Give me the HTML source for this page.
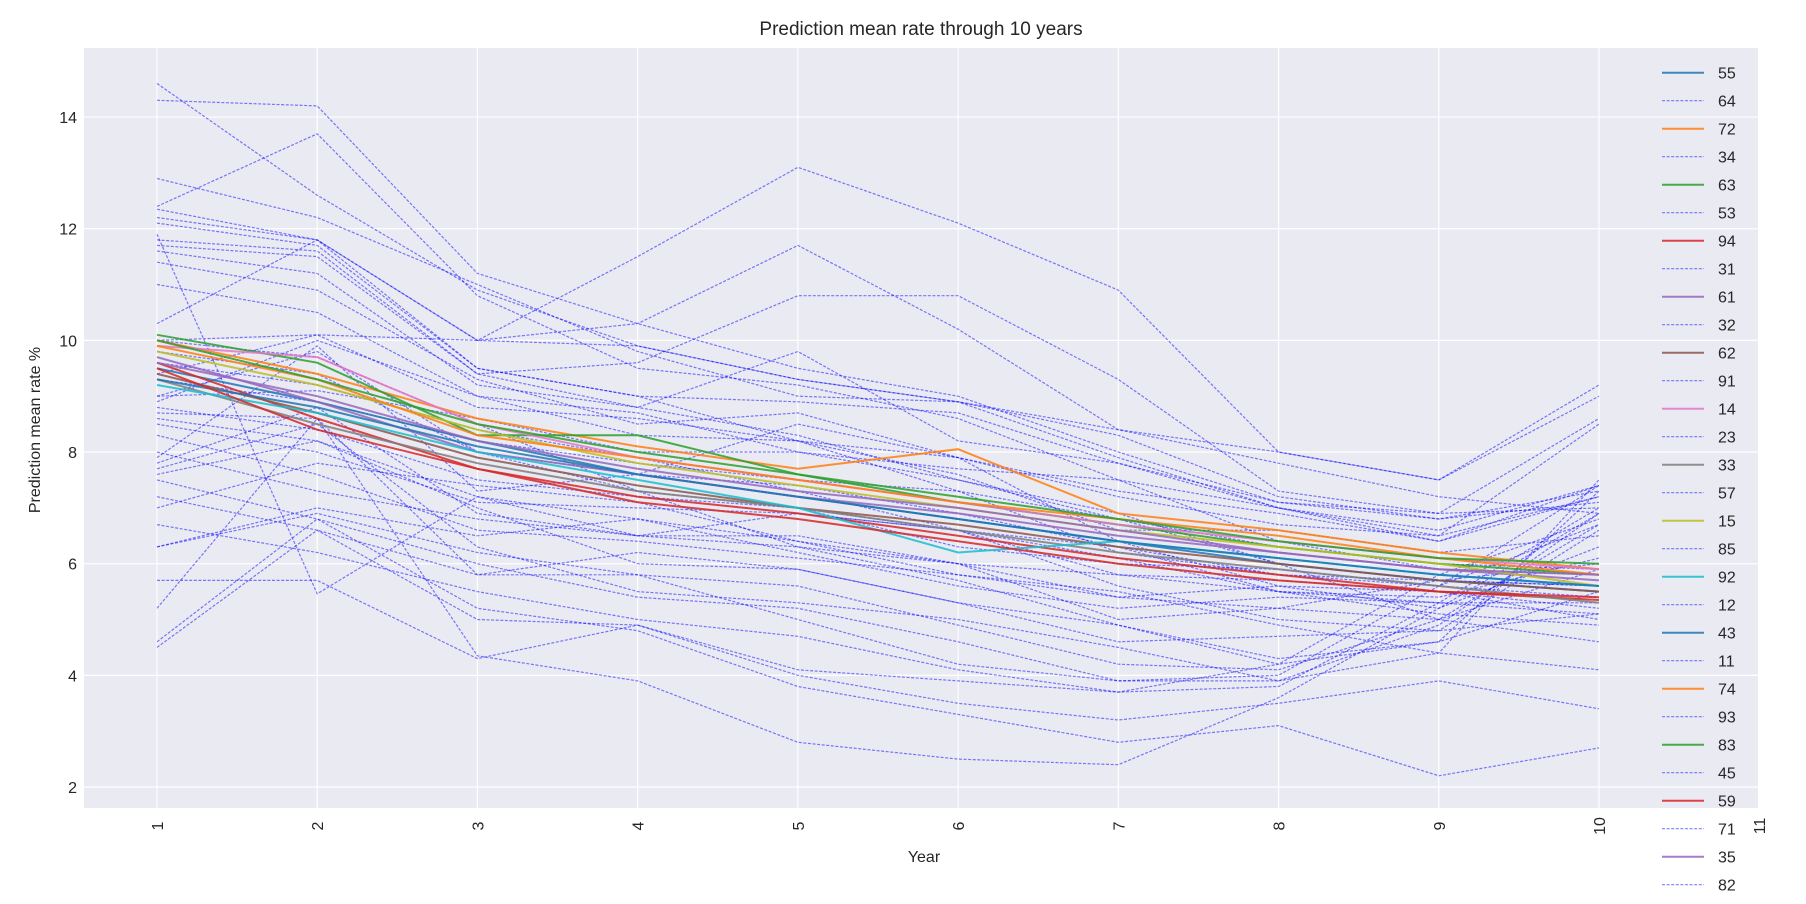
<!DOCTYPE html>
<html><head><meta charset="utf-8"><style>
html,body{margin:0;padding:0;background:#fff;}
svg{display:block;font-family:"Liberation Sans",sans-serif;}
</style></head><body>
<svg id="chart" width="1806" height="904" viewBox="0 0 1806 904" xmlns="http://www.w3.org/2000/svg">
<rect x="84" y="48" width="1674" height="760" fill="#eaeaf2"/>
<g id="grid"></g><g id="lines"></g><g id="axes"></g><g id="legend"></g>
<text x="921" y="35" text-anchor="middle" font-size="19" fill="#262626">Prediction mean rate through 10 years</text>
<text transform="translate(40,430) rotate(-90)" text-anchor="middle" font-size="16" fill="#262626">Prediction mean rate %</text>
<text x="924" y="862" text-anchor="middle" font-size="16" fill="#262626">Year</text>
</svg>
<script>
const years = [1,2,3,4,5,6,7,8,9,10];
const xTicks = [1,2,3,4,5,6,7,8,9,10,11];
const yTicks = [2,4,6,8,10,12,14];
const blueSeries = [
[14.6,12.6,10.9,9.9,9.3,8.9,8.3,7.2,6.8,7.3],
[14.3,14.2,11.2,10.3,9.5,9.0,8.0,7.1,6.9,7.0],
[12.9,12.2,11.0,9.8,9.0,8.9,7.9,7.0,6.6,7.4],
[12.4,13.7,10.8,9.5,9.2,8.6,7.5,7.0,6.4,7.2],
[12.35,11.8,10.0,11.5,13.1,12.1,10.9,8.0,7.5,9.2],
[12.2,11.8,10.0,10.3,11.7,10.2,8.4,8.0,7.5,9.0],
[11.9,5.46,7.2,6.5,6.3,5.7,4.9,4.3,4.6,5.5],
[11.7,11.5,9.4,9.6,10.8,10.8,9.3,7.3,6.9,8.6],
[11.6,11.2,9.2,8.8,9.8,8.2,7.8,7.0,6.5,8.5],
[11.4,10.9,9.3,8.5,8.7,7.9,7.3,6.9,6.4,7.4],
[11.0,10.5,9.0,8.3,8.2,7.9,7.2,6.7,6.5,7.2],
[10.3,11.8,9.5,9.0,8.9,8.7,7.8,7.1,6.8,7.1],
[10.0,10.1,10.0,9.9,9.3,8.9,8.4,7.8,7.2,6.9],
[9.4,10.1,8.8,8.6,8.2,7.6,6.6,6.6,6.2,6.5],
[9.0,9.8,8.0,7.6,7.4,6.9,6.3,5.8,5.6,6.7],
[8.8,8.4,7.5,7.2,7.0,6.6,5.8,5.5,5.4,6.1],
[8.6,8.2,7.2,6.8,6.4,6.0,5.4,5.2,5.0,5.9],
[7.9,9.9,7.3,7.6,8.5,7.9,6.4,5.6,5.2,6.9],
[7.8,8.8,6.9,6.5,6.9,6.6,5.6,5.0,4.8,6.6],
[7.7,8.5,6.3,5.5,5.3,5.0,4.5,3.9,4.4,7.5],
[7.6,8.2,7.0,6.0,5.9,5.3,4.9,4.2,4.6,7.3],
[7.5,6.8,6.0,5.4,5.2,4.6,3.9,3.9,4.9,6.9],
[7.2,6.6,5.8,5.8,5.6,4.9,4.2,4.1,5.0,6.7],
[6.7,6.2,5.5,5.0,4.7,4.1,3.7,3.8,5.3,7.0],
[6.3,6.9,6.2,5.8,5.0,4.2,3.9,4.0,5.6,7.4],
[5.7,5.7,4.3,4.9,4.1,3.9,3.7,4.2,5.8,6.8],
[5.2,8.6,4.35,3.9,2.8,2.5,2.4,3.6,5.2,6.3],
[4.6,6.8,5.2,4.8,3.8,3.3,2.8,3.1,2.2,2.7],
[4.5,6.6,5.0,4.9,4.0,3.5,3.2,3.5,3.9,3.4],
[9.3,8.9,8.2,7.8,7.5,7.3,6.8,6.0,5.7,5.6],
[9.0,9.1,8.6,8.0,8.0,7.7,7.5,6.4,5.9,5.8],
[8.5,8.0,7.1,7.0,6.9,6.6,6.3,5.5,5.3,5.1],
[8.3,7.6,6.6,6.4,6.1,5.8,5.4,5.6,5.5,5.0],
[8.0,7.3,6.8,6.5,6.5,6.0,5.0,5.2,5.7,6.0],
[9.8,9.4,8.0,7.3,6.3,6.0,5.8,5.7,5.5,5.2],
[10.0,9.7,8.5,7.3,7.0,6.3,6.0,5.9,5.6,5.4],
[11.8,11.6,9.4,8.8,8.3,7.5,6.8,6.3,6.0,5.9],
[12.1,11.7,9.5,9.0,8.2,7.3,6.2,5.8,5.7,5.6],
[8.7,8.6,5.8,6.2,5.9,5.3,4.6,4.7,4.8,5.1],
[6.3,7.0,6.5,6.8,6.2,5.6,5.2,5.4,5.3,5.3],
[7.0,7.8,7.4,7.1,6.4,5.8,5.5,4.9,4.4,4.1],
[9.6,9.2,8.4,7.9,7.3,6.6,6.1,5.5,5.1,4.9],
[8.9,10.0,9.0,8.7,8.0,7.5,6.9,6.0,5.0,4.6]
];
const solidSeries = [
[9.5,8.9,8.2,7.6,7.2,6.8,6.4,6.0,5.7,5.5],
[10.0,9.4,8.6,8.1,7.7,8.05,6.9,6.6,6.2,5.9],
[10.1,9.6,8.3,8.3,7.6,7.1,6.7,6.3,6.0,5.8],
[9.6,8.6,7.7,7.2,6.9,6.5,6.1,5.8,5.5,5.35],
[9.7,8.9,8.0,7.6,7.2,6.9,6.5,6.2,5.9,5.7],
[9.4,8.7,7.9,7.4,7.0,6.7,6.3,6.0,5.7,5.5],
[9.9,9.7,8.5,7.9,7.5,7.1,6.7,6.4,6.1,5.9],
[9.3,8.5,7.8,7.3,7.0,6.6,6.2,5.9,5.6,5.3],
[9.8,9.2,8.4,7.8,7.4,7.0,6.6,6.3,6.0,5.6],
[9.2,8.7,8.0,7.5,7.0,6.2,6.4,6.1,5.8,5.6],
[9.3,8.8,8.1,7.6,7.2,6.8,6.4,6.1,5.8,5.6],
[9.9,9.3,8.3,7.9,7.5,7.1,6.8,6.5,6.1,5.8],
[10.0,9.3,8.5,8.0,7.6,7.2,6.8,6.4,6.1,6.0],
[9.5,8.4,7.7,7.1,6.8,6.4,6.0,5.7,5.5,5.4],
[9.6,9.0,8.2,7.7,7.3,7.0,6.6,6.2,5.9,5.8]
];
const solidColors = ["#1f77b4","#ff7f0e","#2ca02c","#d62728","#9467bd","#8c564b","#e377c2","#7f7f7f","#bcbd22","#17becf","#1f77b4","#ff7f0e","#2ca02c","#d62728","#9467bd"];
const legendLabels = ["55","64","72","34","63","53","94","31","61","32","62","91","14","23","33","57","15","85","92","12","43","11","74","93","83","45","59","71","35","82"];
const NS="http://www.w3.org/2000/svg";
const X0=84,X1=1758,Y0=48,Y1=808;
function xs(v){return 157+(v-1)*160.22;}
function ys(v){return 787-(v-2)*55.83;}
function mk(tag,attrs,parent){const e=document.createElementNS(NS,tag);for(const k in attrs)e.setAttribute(k,attrs[k]);parent.appendChild(e);return e;}
const grid=document.getElementById('grid'),lines=document.getElementById('lines'),axes=document.getElementById('axes'),legend=document.getElementById('legend');
xTicks.forEach(t=>{
  const x=xs(t);
  if(x<X1-1){
    const g=mk('line',{x1:x,x2:x,y1:Y0,y2:Y1,stroke:'#fff','stroke-width':1.2},grid);
    
    
  }
  const tx=mk('text',{transform:`translate(${x+6},826) rotate(-90)`,'text-anchor':'middle','font-size':16,fill:'#262626'},axes);
  tx.textContent=t;
  
  
});
yTicks.forEach(t=>{
  const y=ys(t);
  const g=mk('line',{x1:X0,x2:X1,y1:y,y2:y,stroke:'#fff','stroke-width':1.2},grid);
  
  
  const tx=mk('text',{x:77,y:y+6,'text-anchor':'end','font-size':16,fill:'#262626'},axes);
  tx.textContent=t;
  
  
});
function pts(s){return s.map((v,i)=>xs(years[i]).toFixed(1)+','+ys(v).toFixed(1)).join(' ');}
blueSeries.forEach(s=>{
  const p=mk('polyline',{points:pts(s),fill:'none',stroke:'#0000ff','stroke-opacity':0.5,'stroke-width':1.2,'stroke-dasharray':'3 1.6'},lines);
  
  
});
solidSeries.forEach((s,i)=>{
  const p=mk('polyline',{points:pts(s),fill:'none',stroke:solidColors[i],'stroke-opacity':0.85,'stroke-width':2},lines);
  
  
});
legendLabels.forEach((lab,i)=>{
  const y=72.7+28.0*i;
  let ln;
  if(i%2===0){
    ln=mk('line',{x1:1662,x2:1704,y1:y,y2:y,stroke:solidColors[i/2],'stroke-opacity':0.85,'stroke-width':2},legend);
  } else {
    ln=mk('line',{x1:1662,x2:1704,y1:y,y2:y,stroke:'#0000ff','stroke-opacity':0.5,'stroke-width':1.2,'stroke-dasharray':'3 1.6'},legend);
  }
  
  
  const tx=mk('text',{x:1718,y:y+6,'font-size':16,fill:'#262626'},legend);
  tx.textContent=lab;
  
  
});
</script>
</body></html>
